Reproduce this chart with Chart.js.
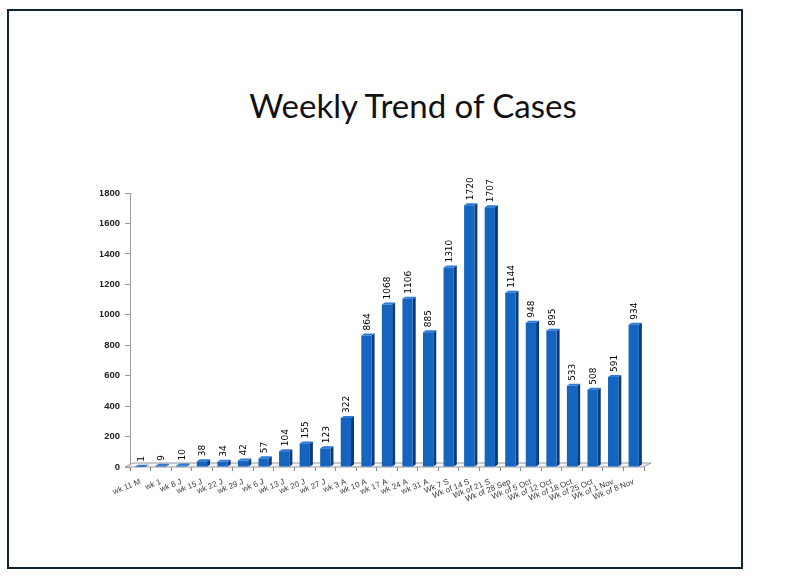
<!DOCTYPE html>
<html>
<head>
<meta charset="utf-8">
<script src="https://cdn.jsdelivr.net/npm/chart.js@4.4.0/dist/chart.umd.min.js"></script>
<style>
  html, body { margin: 0; padding: 0; background: #fff; }
  #frame {
    position: absolute; left: 7px; top: 9px; width: 732px; height: 556px;
    border: 2px solid #0c2733;
  }
  #title {
    position: absolute; left: 0; width: 826px; top: 85px; text-align: center;
    font-family: Lato, "Open Sans", sans-serif; font-size: 33px; color: #111;
  }
  canvas { position: absolute; left: 0; top: 0; }
</style>
</head>
<body>
<div id="frame"></div>
<div id="title">Weekly Trend of Cases</div>
<canvas id="myChart" width="797" height="579"></canvas>
<script>
const weekLabels = [
  'wk 11 M', 'wk 1', 'wk 8 J', 'wk 15 J', 'wk 22 J', 'wk 29 J', 'wk 6 J', 'wk 13 J',
  'wk 20 J', 'wk 27 J', 'wk 3 A', 'wk 10 A', 'wk 17 A', 'wk 24 A', 'wk 31 A', 'Wk 7 S',
  'Wk of 14 S', 'Wk of 21 S', 'Wk of 28 Sep', 'Wk of 5 Oct', 'Wk of 12 Oct', 'Wk of 18 Oct',
  'Wk of 25 Oct', 'Wk of 1 Nov', 'Wk of 8 Nov'
];
const weeklyCases = [
  1, 9, 10, 38, 34, 42, 57, 104, 155, 123, 322, 864, 1068, 1106, 885, 1310,
  1720, 1707, 1144, 948, 895, 533, 508, 591, 934
];
const yTicks = [0, 200, 400, 600, 800, 1000, 1200, 1400, 1600, 1800];

// 3D 바닥 + 막대 옆면
const bar3d = {
  id: 'bar3d',
  beforeDatasetsDraw(chart) {
    const { ctx, chartArea } = chart;
    const dx = 8, dy = 4;
    const l = chartArea.left - 5, r = chartArea.right - 1, b = chartArea.bottom;
    ctx.save();
    ctx.beginPath();
    ctx.moveTo(l, b);
    ctx.lineTo(r, b);
    ctx.lineTo(r + dx, b - dy);
    ctx.lineTo(l + dx, b - dy);
    ctx.closePath();
    ctx.fillStyle = '#f4f4f4';
    ctx.fill();
    ctx.strokeStyle = '#9a9a9a';
    ctx.lineWidth = 1;
    ctx.stroke();

    const d = 3, h = 2;
    chart.getDatasetMeta(0).data.forEach(bar => {
      const w = bar.width / 2;
      // 옆면
      ctx.beginPath();
      ctx.moveTo(bar.x + w, bar.y);
      ctx.lineTo(bar.x + w + d, bar.y - h);
      ctx.lineTo(bar.x + w + d, bar.base - h);
      ctx.lineTo(bar.x + w, bar.base);
      ctx.closePath();
      ctx.fillStyle = '#0b3c78';
      ctx.fill();
      // 윗면
      ctx.beginPath();
      ctx.moveTo(bar.x - w, bar.y);
      ctx.lineTo(bar.x - w + d, bar.y - h);
      ctx.lineTo(bar.x + w + d, bar.y - h);
      ctx.lineTo(bar.x + w, bar.y);
      ctx.closePath();
      ctx.fillStyle = '#2a7ad6';
      ctx.fill();
    });
    ctx.restore();
  },
  afterDatasetsDraw(chart) {
    const { ctx } = chart;
    const values = chart.data.datasets[0].data;
    ctx.save();
    ctx.font = '9px "DejaVu Sans", sans-serif';
    ctx.fillStyle = '#000';
    ctx.textAlign = 'left';
    ctx.textBaseline = 'middle';
    chart.getDatasetMeta(0).data.forEach((bar, i) => {
      ctx.save();
      ctx.translate(bar.x + 1, bar.y - 5);
      ctx.rotate(-Math.PI / 2);
      ctx.fillText(String(values[i]), 0, 0);
      ctx.restore();
    });
    ctx.restore();
  }
};

const ctx = document.getElementById('myChart');
new Chart(ctx, {
  type: 'bar',
  data: {
    labels: weekLabels,
    datasets: [{
      label: 'Cases',
      data: weeklyCases,
      backgroundColor: '#1565c0',
      borderWidth: 0,
      barPercentage: 0.5,
      categoryPercentage: 1
    }]
  },
  options: {
    responsive: false,
    animation: false,
    layout: { padding: { left: 100, right: 153, top: 193, bottom: 72 } },
    plugins: {
      legend: { display: false },
      tooltip: { enabled: false }
    },
    scales: {
      x: {
        afterFit: s => { s.height = 40; },
        border: { display: false },
        grid: { drawOnChartArea: false, drawTicks: true, tickLength: 4, color: '#888' },
        ticks: {
          minRotation: 22, maxRotation: 22, autoSkip: false, padding: 6,
          font: { family: '"Liberation Sans", sans-serif', size: 8 },
          color: '#3a3a3a'
        }
      },
      y: {
        min: yTicks[0],
        max: yTicks[yTicks.length - 1],
        afterFit: s => { s.width = 30; },
        afterBuildTicks: s => { s.ticks = yTicks.map(v => ({ value: v })); },
        border: { display: true, color: '#999' },
        grid: { drawOnChartArea: false, drawTicks: true, tickLength: 5, color: '#999' },
        ticks: {
          padding: 5,
          callback: v => String(v),
          font: { family: '"Liberation Sans", sans-serif', size: 9.5, weight: 'bold' },
          color: '#222'
        }
      }
    }
  },
  plugins: [bar3d]
});
</script>
</body>
</html>
